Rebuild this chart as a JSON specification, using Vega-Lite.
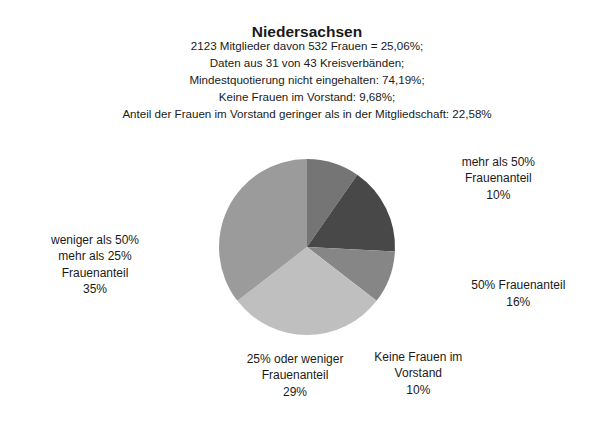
{
  "$schema": "https://vega.github.io/schema/vega-lite/v6.json",
  "autosize": "none",
  "width": 598,
  "height": 240,
  "padding": {"top": 127, "left": 8, "right": 0, "bottom": 54},
  "background": "white",
  "config": {"view": {"stroke": null}, "font": "Liberation Sans"},
  "title": {
    "text": "Niedersachsen",
    "subtitle": [
      "2123 Mitglieder davon 532 Frauen = 25,06%;",
      "Daten aus 31 von 43 Kreisverbänden;",
      "Mindestquotierung nicht eingehalten: 74,19%;",
      "Keine Frauen im Vorstand: 9,68%;",
      "Anteil der Frauen im Vorstand geringer als in der Mitgliedschaft: 22,58%"
    ],
    "anchor": "middle",
    "font": "Liberation Sans",
    "fontSize": 15.5,
    "fontWeight": "bold",
    "color": "#1a1a1a",
    "subtitleFont": "Liberation Sans",
    "subtitleFontSize": 11.6,
    "subtitleColor": "#1a1a1a",
    "subtitleLineHeight": 17,
    "subtitlePadding": 0,
    "offset": 6.5
  },
  "data": {
    "values": [
      {"kategorie": "mehr als 50% Frauenanteil", "anzahl": 3, "reihe": 1, "label": "mehr als 50%\nFrauenanteil\n10%"},
      {"kategorie": "50% Frauenanteil", "anzahl": 5, "reihe": 2, "label": "50% Frauenanteil\n16%"},
      {"kategorie": "Keine Frauen im Vorstand", "anzahl": 3, "reihe": 3, "label": "Keine Frauen im\nVorstand\n10%"},
      {"kategorie": "25% oder weniger Frauenanteil", "anzahl": 9, "reihe": 4, "label": "25% oder weniger\nFrauenanteil\n29%"},
      {"kategorie": "weniger als 50% mehr als 25% Frauenanteil", "anzahl": 11, "reihe": 5, "label": "weniger als 50%\nmehr als 25%\nFrauenanteil\n35%"}
    ]
  },
  "resolve": {"scale": {"theta": "independent"}},
  "layer": [
    {
      "mark": {"type": "arc", "radius": 88},
      "encoding": {
        "theta": {"field": "anzahl", "type": "quantitative", "stack": true},
        "order": {"field": "reihe", "type": "quantitative"},
        "color": {
          "field": "kategorie",
          "type": "nominal",
          "scale": {
            "domain": ["mehr als 50% Frauenanteil", "50% Frauenanteil", "Keine Frauen im Vorstand", "25% oder weniger Frauenanteil", "weniger als 50% mehr als 25% Frauenanteil"],
            "range": ["#757575", "#484848", "#868686", "#bfbfbf", "#9b9b9b"]
          },
          "legend": null
        }
      }
    },
    {
      "mark": {
        "type": "text",
        "radius": {"expr": "pow(pow(abs(sin(0.92677+0.14975*(datum.anzahl_start+datum.anzahl_end)/2))/212,4)+pow(abs(cos(0.92677+0.14975*(datum.anzahl_start+datum.anzahl_end)/2))/112,4),-0.25)"},
        "lineBreak": "\n",
        "fontSize": 12,
        "lineHeight": 16.5,
        "color": "#1a1a1a",
        "font": "Liberation Sans"
      },
      "encoding": {
        "theta": {"field": "anzahl", "type": "quantitative", "stack": true, "scale": {"range": [0.92677, 5.5694]}},
        "order": {"field": "reihe", "type": "quantitative"},
        "text": {"field": "label", "type": "nominal"}
      }
    }
  ]
}
